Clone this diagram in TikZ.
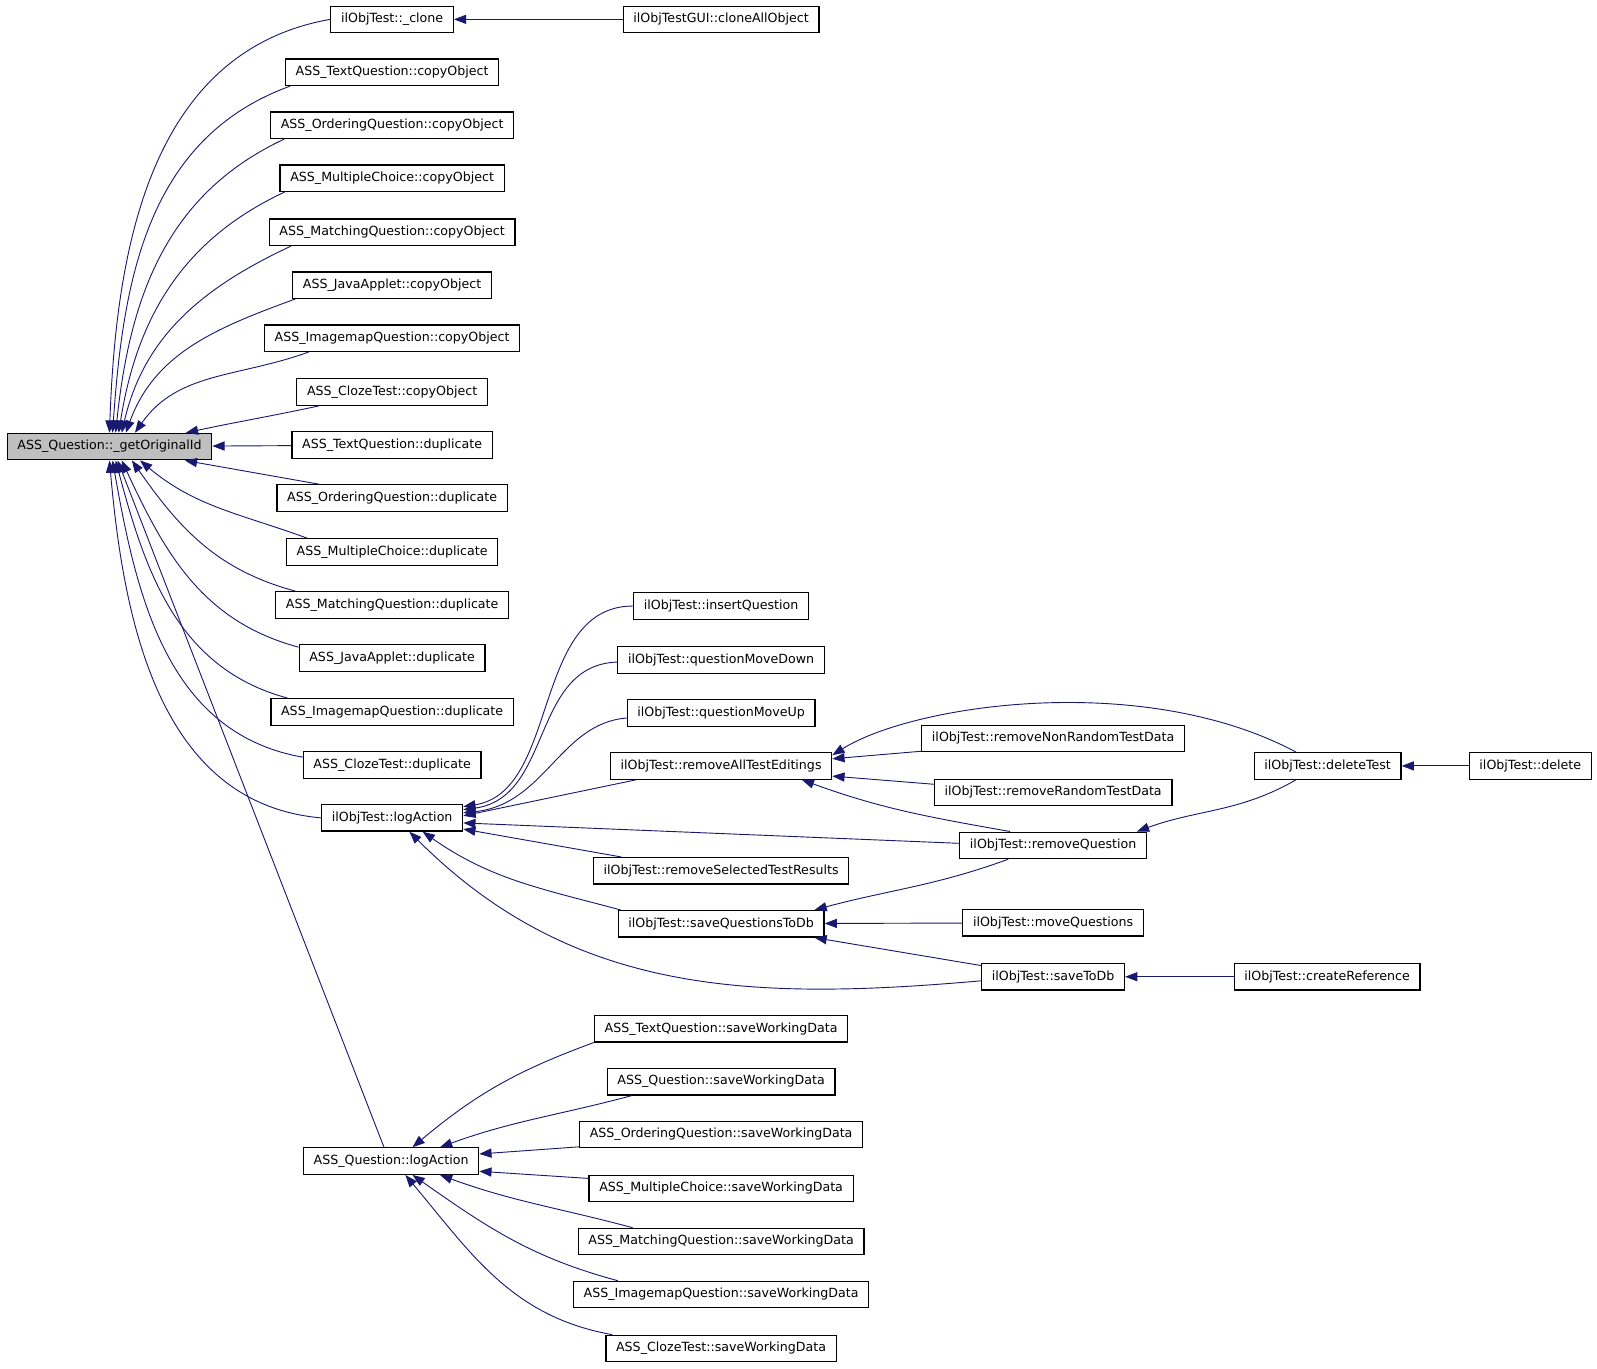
\documentclass[tikz,border=0pt]{standalone}
\usepackage{fontspec}
\setmainfont{DejaVu Sans}
\usetikzlibrary{arrows.meta}
\definecolor{midnight}{HTML}{191970}

\begin{document}
\begin{tikzpicture}[x=1pt,y=1pt]
\tikzstyle{Function} = [draw, line width=1.2, fill=white, inner xsep=10, inner ysep=0, minimum height=26, font=\fontsize{12.4}{14}\selectfont]
\tikzstyle{Selected} = [Function, fill=black!25]
\tikzstyle{Call} = [{Triangle[length=12,width=9]}-, line width=0.9, color=midnight]

\useasboundingbox (0,0) rectangle (1568,-1344);

% callee
\node [Selected] (v0) at (107.5,-438.5) {ASS\_Question::\_getOriginalId};

% first level
\node [Function] (v1) at (385,-19) {ilObjTest::\_clone};
\node [Function] (v2) at (385,-71) {ASS\_TextQuestion::copyObject};
\node [Function] (v3) at (385,-123) {ASS\_OrderingQuestion::copyObject};
\node [Function] (v4) at (385,-175) {ASS\_MultipleChoice::copyObject};
\node [Function] (v5) at (385,-228) {ASS\_MatchingQuestion::copyObject};
\node [Function] (v6) at (385,-280) {ASS\_JavaApplet::copyObject};
\node [Function] (v7) at (385,-332) {ASS\_ImagemapQuestion::copyObject};
\node [Function] (v8) at (385,-385) {ASS\_ClozeTest::copyObject};
\node [Function] (v9) at (385,-437) {ASS\_TextQuestion::duplicate};
\node [Function] (v10) at (385,-489) {ASS\_OrderingQuestion::duplicate};
\node [Function] (v11) at (385,-542) {ASS\_MultipleChoice::duplicate};
\node [Function] (v12) at (385,-594) {ASS\_MatchingQuestion::duplicate};
\node [Function] (v13) at (385,-646) {ASS\_JavaApplet::duplicate};
\node [Function] (v14) at (385,-699) {ASS\_ImagemapQuestion::duplicate};
\node [Function] (v15) at (385,-751) {ASS\_ClozeTest::duplicate};
\node [Function] (v16) at (385,-803) {ilObjTest::logAction};
\node [Function] (v17) at (384,-1140) {ASS\_Question::logAction};

% second level
\node [Function] (v18) at (708,-19) {ilObjTestGUI::cloneAllObject};
\node [Function] (v19) at (708,-595) {ilObjTest::insertQuestion};
\node [Function] (v20) at (708,-648) {ilObjTest::questionMoveDown};
\node [Function] (v21) at (708,-700) {ilObjTest::questionMoveUp};
\node [Function] (v22) at (708,-752) {ilObjTest::removeAllTestEditings};
\node [Function] (v23) at (708,-855) {ilObjTest::removeSelectedTestResults};
\node [Function] (v24) at (708,-907) {ilObjTest::saveQuestionsToDb};
\node [Function] (v25) at (708,-1010) {ASS\_TextQuestion::saveWorkingData};
\node [Function] (v26) at (708,-1062) {ASS\_Question::saveWorkingData};
\node [Function] (v27) at (708,-1114) {ASS\_OrderingQuestion::saveWorkingData};
\node [Function] (v28) at (708,-1167) {ASS\_MultipleChoice::saveWorkingData};
\node [Function] (v29) at (708,-1219) {ASS\_MatchingQuestion::saveWorkingData};
\node [Function] (v30) at (708,-1271) {ASS\_ImagemapQuestion::saveWorkingData};
\node [Function] (v31) at (708,-1324) {ASS\_ClozeTest::saveWorkingData};

% third level and beyond
\node [Function] (v32) at (1034,-725) {ilObjTest::removeNonRandomTestData};
\node [Function] (v33) at (1034,-778) {ilObjTest::removeRandomTestData};
\node [Function] (v34) at (1034,-830) {ilObjTest::removeQuestion};
\node [Function] (v35) at (1034,-906) {ilObjTest::moveQuestions};
\node [Function] (v36) at (1034,-959) {ilObjTest::saveToDb};
\node [Function] (v37) at (1303.5,-752) {ilObjTest::deleteTest};
\node [Function] (v38) at (1303,-959) {ilObjTest::createReference};
\node [Function] (v39) at (1502.5,-752) {ilObjTest::delete};

% callers of _getOriginalId
\draw [Call] (v0.north) to[out=88,in=190] (v1.west);
\draw [Call] ([xshift=3]v0.north) to[out=86,in=200] ([xshift=5]v2.south west);
\draw [Call] ([xshift=6]v0.north) to[out=84,in=205] ([xshift=14]v3.south west);
\draw [Call] ([xshift=9]v0.north) to[out=81,in=205] ([xshift=5]v4.south west);
\draw [Call] ([xshift=12]v0.north) to[out=77,in=205] ([xshift=22]v5.south west);
\draw [Call] ([xshift=16]v0.north) to[out=70,in=200] ([xshift=3]v6.south west);
\draw [Call] ([xshift=25]v0.north) to[out=55,in=200] ([xshift=44]v7.south west);
\draw [Call] ([xshift=75]v0.north) to[out=12,in=192] ([xshift=22]v8.south west);
\draw [Call] (v0) -- (v9);
\draw [Call] ([xshift=74]v0.south) -- ([xshift=42]v10.north west);
\draw [Call] ([xshift=30]v0.south) to[out=-40,in=160] ([xshift=21]v11.north west);
\draw [Call] ([xshift=22]v0.south) to[out=-55,in=165] ([xshift=20]v12.north west);
\draw [Call] ([xshift=12]v0.south) to[out=-65,in=165] ([yshift=-3]v13.north west);
\draw [Call] ([xshift=6]v0.south) to[out=-75,in=165] ([xshift=17]v14.north west);
\draw [Call] ([xshift=3]v0.south) to[out=-80,in=170] ([yshift=-6]v15.north west);
\draw [Call] (v0.south) to[out=-85,in=175] (v16.west);
\draw [Call] ([xshift=8]v0.south) -- ([xshift=-7]v17.north);

\draw [Call] (v1) -- (v18);

% callers of ilObjTest::logAction
\draw [Call] ([yshift=11]v16.east) .. controls +(95,15) and +(-100,0) .. (v19.west);
\draw [Call] ([yshift=8]v16.east) .. controls +(88,12) and +(-85,-3) .. ([yshift=-2]v20.west);
\draw [Call] ([yshift=5]v16.east) .. controls +(80,8) and +(-65,-5) .. ([yshift=-5]v21.west);
\draw [Call] ([yshift=2]v16.east) -- ([xshift=26]v22.south west);
\draw [Call] ([yshift=-5]v16.east) -- ([yshift=2]v34.west);
\draw [Call] ([yshift=-11]v16.east) -- ([xshift=28]v23.north west);
\draw [Call] ([xshift=30]v16.south) to[out=-35,in=165] ([xshift=3]v24.north west);
\draw [Call] ([xshift=17]v16.south) to[out=-45,in=185] ([yshift=-4]v36.west);

% callers of removeAllTestEditings
\draw [Call] ([yshift=-3]v22.north east) .. controls +(80,50) and +(-150,80) .. ([xshift=-31]v37.north);
\draw [Call] ([yshift=7]v22.east) -- ([yshift=1]v32.south west);
\draw [Call] ([yshift=-10]v22.east) -- ([yshift=8]v33.west);
\draw [Call] ([xshift=-30]v22.south east) to[out=-20,in=170] ([xshift=50]v34.north west);

\draw [Call] ([xshift=-10]v34.north east) to[out=20,in=210] ([xshift=-31]v37.south);

% callers of saveQuestionsToDb
\draw [Call] ([xshift=-10]v24.north east) to[out=15,in=200] ([xshift=-44]v34.south);
\draw [Call] (v24) -- (v35);
\draw [Call] ([xshift=-10]v24.south east) -- ([yshift=11]v36.west);

\draw [Call] (v36) -- (v38);
\draw [Call] (v37) -- (v39);

% callers of ASS_Question::logAction
\draw [Call] ([xshift=21]v17.north) to[out=40,in=200] (v25.south west);
\draw [Call] ([xshift=48]v17.north) to[out=20,in=195] ([xshift=25]v26.south west);
\draw [Call] ([yshift=7]v17.east) -- ([yshift=-12]v27.west);
\draw [Call] ([yshift=-10]v17.east) -- ([yshift=10]v28.west);
\draw [Call] ([xshift=48]v17.south) to[out=-20,in=165] ([xshift=54]v29.north west);
\draw [Call] ([xshift=21]v17.south) to[out=-35,in=165] ([xshift=44]v30.north west);
\draw [Call] ([xshift=14]v17.south) to[out=-50,in=170] ([xshift=7]v31.north west);
\end{tikzpicture}
\end{document}
